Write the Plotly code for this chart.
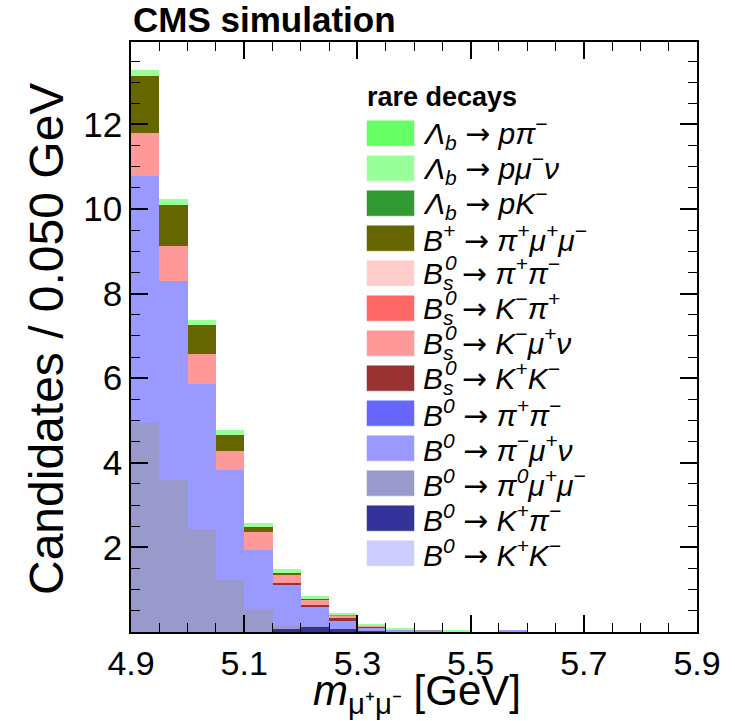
import plotly.graph_objects as go

# ---------------- data ----------------
bin_edges = [round(4.90 + 0.05 * i, 2) for i in range(21)]
bin_centers = [round((bin_edges[i] + bin_edges[i + 1]) / 2, 3) for i in range(20)]
bin_width = 0.05

ARROW = " <span style='font-family:DejaVu Sans'>→</span> "
# legend order (top of legend first); stack is drawn bottom-up in reverse order
labels = [
    "<i>Λ<sub>b</sub></i>" + ARROW + "<i>pπ<sup>−</sup></i>",
    "<i>Λ<sub>b</sub></i>" + ARROW + "<i>pμ<sup>−</sup>ν</i>",
    "<i>Λ<sub>b</sub></i>" + ARROW + "<i>pK<sup>−</sup></i>",
    "<i>B<sup>+</sup></i>" + ARROW + "<i>π<sup>+</sup>μ<sup>+</sup>μ<sup>−</sup></i>",
    "<i>B<sub>s</sub></i>" + ARROW + "<i>π<sup>+</sup>π<sup>−</sup></i>",
    "<i>B<sub>s</sub></i>" + ARROW + "<i>K<sup>−</sup>π<sup>+</sup></i>",
    "<i>B<sub>s</sub></i>" + ARROW + "<i>K<sup>−</sup>μ<sup>+</sup>ν</i>",
    "<i>B<sub>s</sub></i>" + ARROW + "<i>K<sup>+</sup>K<sup>−</sup></i>",
    "<i>B<sup>0</sup></i>" + ARROW + "<i>π<sup>+</sup>π<sup>−</sup></i>",
    "<i>B<sup>0</sup></i>" + ARROW + "<i>π<sup>−</sup>μ<sup>+</sup>ν</i>",
    "<i>B<sup>0</sup></i>" + ARROW + "<i>π<sup>0</sup>μ<sup>+</sup>μ<sup>−</sup></i>",
    "<i>B<sup>0</sup></i>" + ARROW + "<i>K<sup>+</sup>π<sup>−</sup></i>",
    "<i>B<sup>0</sup></i>" + ARROW + "<i>K<sup>+</sup>K<sup>−</sup></i>",
]
stacked_sup = [None, None, None, None, "0", "0", "0", "0", None, None, None, None, None]
colors = [
    "#66ff66", "#99ff99", "#339933", "#666600",
    "#ffcccc", "#ff6666", "#ff9999", "#993333",
    "#6666ff", "#9999ff", "#9999cc", "#333399", "#ccccff",
]

Lb_ppi    = [0.00] * 20
Lb_pmunu  = [0.14, 0.14, 0.12, 0.13, 0.09, 0.09, 0.07, 0.06, 0.04, 0.05, 0.00, 0.03, 0, 0, 0, 0, 0, 0, 0, 0]
Lb_pK     = [0.00] * 20
Bp_pimumu = [1.35, 0.97, 0.68, 0.36, 0.12, 0.03, 0.01, 0, 0, 0, 0, 0, 0, 0, 0, 0, 0, 0, 0, 0]
Bs_pipi   = [0.00] * 20
Bs_Kpi    = [0, 0, 0, 0, 0, 0, 0, 0.02, 0, 0, 0, 0, 0, 0, 0, 0, 0, 0, 0, 0]
Bs_Kmunu  = [1.01, 0.83, 0.71, 0.45, 0.43, 0.22, 0.13, 0.04, 0.04, 0, 0, 0, 0, 0, 0, 0, 0, 0, 0, 0]
Bs_KK     = [0, 0, 0, 0, 0, 0.02, 0.03, 0.09, 0.01, 0, 0, 0, 0, 0, 0, 0, 0, 0, 0, 0]
B0_pipi   = [0.00] * 20
B0_pimunu = [5.84, 4.70, 3.43, 2.60, 1.43, 0.98, 0.47, 0.19, 0.09, 0.04, 0, 0, 0, 0.05, 0, 0, 0, 0, 0, 0]
B0_pi0mumu = [4.95, 3.60, 2.44, 1.24, 0.51, 0.09, 0.02, 0, 0, 0, 0.04, 0, 0, 0, 0, 0, 0, 0, 0, 0]
B0_Kpi    = [0, 0, 0, 0, 0, 0.06, 0.12, 0.06, 0.02, 0, 0, 0, 0, 0, 0, 0, 0, 0, 0, 0]
B0_KK     = [0.00] * 20

series = [Lb_ppi, Lb_pmunu, Lb_pK, Bp_pimumu, Bs_pipi, Bs_Kpi, Bs_Kmunu, Bs_KK,
          B0_pipi, B0_pimunu, B0_pi0mumu, B0_Kpi, B0_KK]

x_ticks = [4.9, 5.1, 5.3, 5.5, 5.7, 5.9]
x_ticktext = ["4.9", "5.1", "5.3", "5.5", "5.7", "5.9"]
y_ticks = [2, 4, 6, 8, 10, 12]

# ---------------- figure ----------------
FONT = "Liberation Sans, Arial, sans-serif"
L, R, T, B = 131, 38, 42, 89
W, H = 735, 721
fig = go.Figure()
for lab, col, vals in reversed(list(zip(labels, colors, series))):
    fig.add_trace(go.Bar(
        x=bin_centers, y=vals, width=bin_width, name=lab,
        marker=dict(color=col, line=dict(width=0)),
        hoverinfo="skip", showlegend=False,
    ))

fig.update_layout(
    width=W, height=H,
    barmode="stack", bargap=0,
    paper_bgcolor="white", plot_bgcolor="white",
    margin=dict(l=L, r=R, t=T, b=B, autoexpand=False),
    font=dict(family=FONT, color="black"),
    showlegend=False,
)
fig.update_xaxes(
    range=[4.9, 5.9], tickmode="array", tickvals=x_ticks, ticktext=x_ticktext,
    ticks="inside", ticklen=17, tickwidth=1.5, tickcolor="black",
    minor=dict(dtick=0.05, tick0=4.9, ticks="inside", ticklen=9, tickcolor="black", tickwidth=1.2),
    showline=True, linecolor="black", linewidth=1.5, mirror="ticks",
    showgrid=False, zeroline=False, automargin=False,
    tickfont=dict(size=34, family=FONT),
)
fig.update_yaxes(
    range=[0, 13.95], tickmode="array", tickvals=y_ticks,
    ticks="inside", ticklen=17, tickwidth=1.5, tickcolor="black",
    minor=dict(dtick=0.5, tick0=0, ticks="inside", ticklen=9, tickcolor="black", tickwidth=1.2),
    showline=True, linecolor="black", linewidth=1.5, mirror="ticks",
    showgrid=False, zeroline=False, automargin=False,
    tickfont=dict(size=35, family=FONT),
)

PW, PH = W - L - R, H - T - B
def px_to_paper(px, py):
    return (px - L) / PW, 1 - (py - T) / PH

# axis titles (placed to match the reference)
ax, ay = px_to_paper(417, 694)
fig.add_annotation(xref="paper", yref="paper", x=ax, y=ay, xanchor="center", yanchor="middle",
                   text="<i>m</i><sub>μ⁺μ⁻</sub> [GeV]", showarrow=False,
                   font=dict(size=42, family=FONT, color="black"))
ax, ay = px_to_paper(47, 339)
fig.add_annotation(xref="paper", yref="paper", x=ax, y=ay, xanchor="center", yanchor="middle",
                   text="Candidates / 0.050 GeV", showarrow=False, textangle=-90,
                   font=dict(size=48, family=FONT, color="black"))

# title
fig.add_annotation(xref="paper", yref="paper", x=0, y=1, xanchor="left", yanchor="bottom",
                   yshift=1, text="<b>CMS simulation</b>", showarrow=False,
                   font=dict(size=35, family=FONT, color="black"))

# ---------------- manual legend ----------------
tx, ty = px_to_paper(365, 97)
fig.add_annotation(xref="paper", yref="paper", x=tx, y=ty, xanchor="left", yanchor="middle",
                   text="<b>rare decays</b>", showarrow=False,
                   font=dict(size=27, family=FONT, color="black"))
LEG_FS = 30
for i, (lab, col, sup) in enumerate(zip(labels, colors, stacked_sup)):
    cy = 133.3 + 35 * i
    x0, y0 = px_to_paper(367, cy - 12.5)
    x1, y1 = px_to_paper(414, cy + 12.5)
    fig.add_shape(type="rect", xref="paper", yref="paper", x0=x0, x1=x1, y0=y1, y1=y0,
                  fillcolor=col, line=dict(width=0.5, color=col))
    lx, ly = px_to_paper(421, cy)
    fig.add_annotation(xref="paper", yref="paper", x=lx, y=ly, xanchor="left", yanchor="middle",
                       text=lab, showarrow=False,
                       font=dict(size=LEG_FS, family=FONT, color="black"))
    if sup:
        sx, sy = px_to_paper(443, cy - 11)
        fig.add_annotation(xref="paper", yref="paper", x=sx, y=sy, xanchor="left", yanchor="middle",
                           text="<i>" + sup + "</i>", showarrow=False,
                           font=dict(size=21, family=FONT, color="black"))

fig.write_html("out.html")
